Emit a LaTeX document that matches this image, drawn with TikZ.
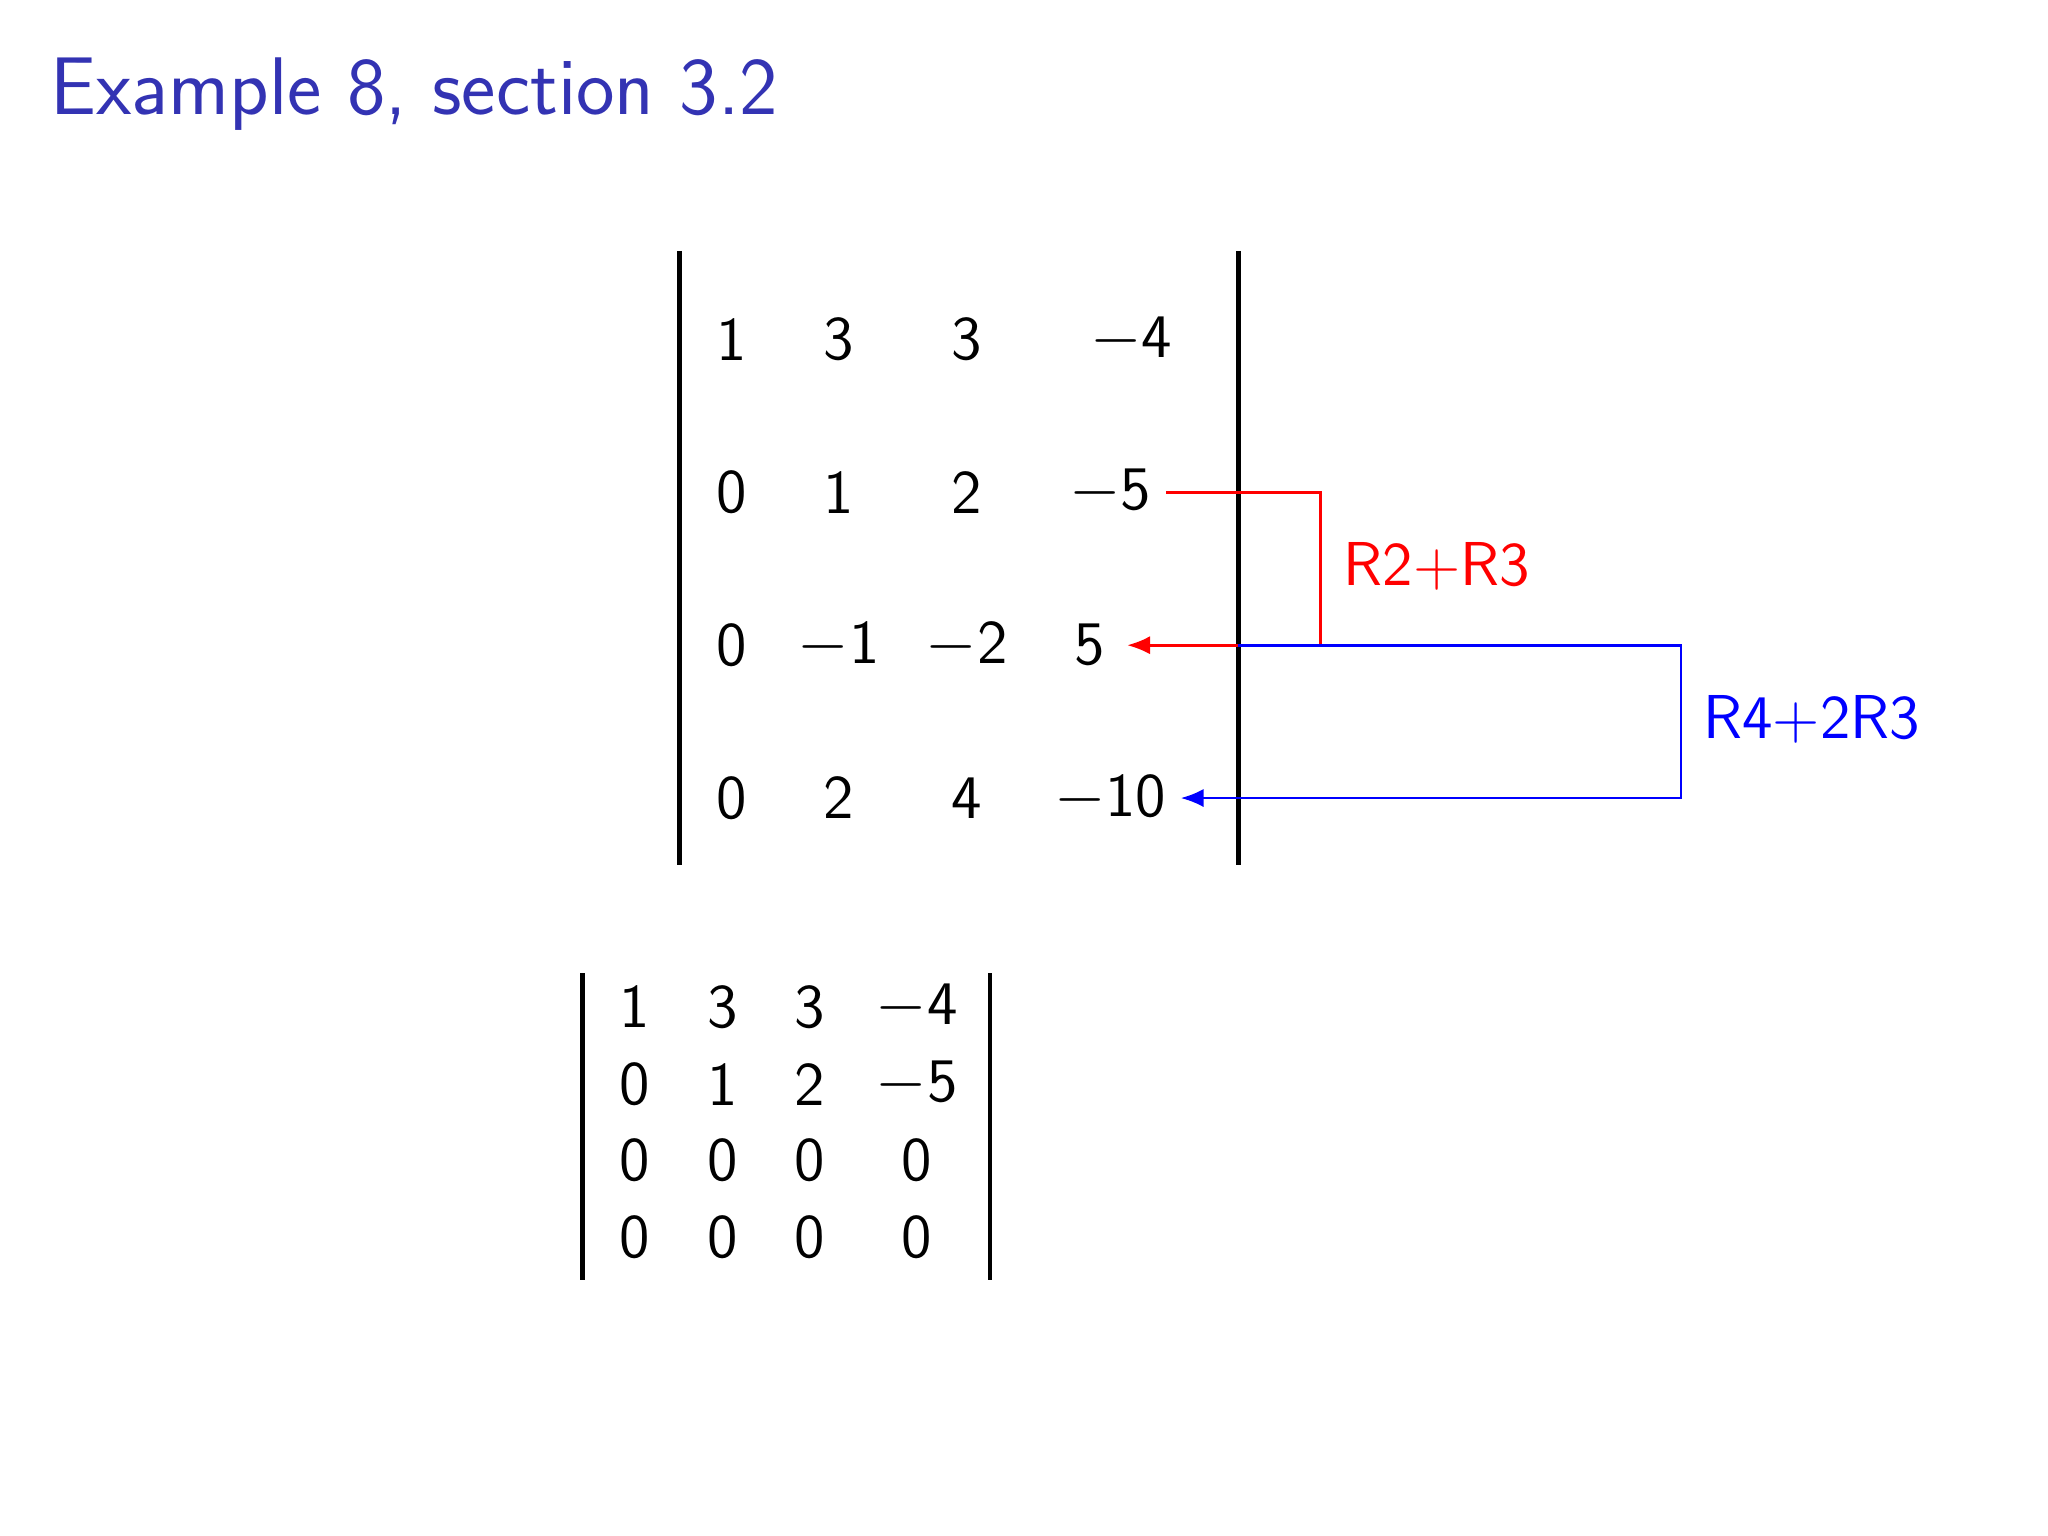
\documentclass[tikz,border=0pt]{standalone}
\usepackage{fontspec}
\usetikzlibrary{arrows.meta}
\definecolor{titleblue}{RGB}{51,51,179}
\begin{document}
\begin{tikzpicture}[x=0.01cm,y=-0.01cm,
  num/.style={font=\sffamily\fontsize{13.5}{16}\selectfont,inner sep=0pt},
  lbl/.style={font=\sffamily\fontsize{13.5}{16}\selectfont,inner sep=0pt},
  bar/.style={line width=1.05pt},
  conn/.style={line width=0.6pt}]
\useasboundingbox (0,0) rectangle (1568,1176);
\node[font=\sffamily\fontsize{17.8}{20}\selectfont,text=titleblue,anchor=west,inner sep=0pt] (title) at (38,72) {Example 8, section 3.2};
% top matrix
\foreach \r/\y/\a/\b/\c in {1/260/1/3/3,2/377/0/1/2,3/494/0/$-$1/$-$2,4/611/0/2/4}{
  \node[num] (t\r a) at (560,\y) {\a};
  \node[num] (t\r b) at (642,\y) {\b};
  \node[num] (t\r c) at (740,\y) {\c};
}
\node[num] (t1d) at (866,260) {$-$4};
\node[num] (t2d) at (850,377) {$-$5};
\node[num] (t3d) at (834,494) {5};
\node[num] (t4d) at (850,611) {$-$10};
\coordinate (tl1) at (520,192); \coordinate (tl2) at (520,662);
\coordinate (tr1) at (948,192); \coordinate (tr2) at (948,662);
\draw[bar] (tl1) -- (tl2);
\draw[bar] (tr1) -- (tr2);
% connectors
\coordinate (rs) at (893,377); \coordinate (rc1) at (1011,377); \coordinate (rc2) at (1011,494);
\coordinate (re) at (863,494);
\draw[conn,red,-{Latex[length=5pt,width=4pt]}] (rs) -- (rc1) -- (rc2) -- (re);
\coordinate (bs) at (948,494); \coordinate (bc1) at (1287,494); \coordinate (bc2) at (1287,611);
\coordinate (be) at (904,611);
\draw[conn,blue,-{Latex[length=5pt,width=4pt]}] (bs) -- (bc1) -- (bc2) -- (be);
\node[lbl,text=red] (l1) at (1100,434) {R2+R3};
\node[lbl,text=blue] (l2) at (1387,551) {R4+2R3};
% bottom matrix
\foreach \r/\y/\a/\b/\c/\d in {1/771/1/3/3/$-$4,2/830/0/1/2/$-$5,3/888/0/0/0/0,4/947/0/0/0/0}{
  \node[num] (b\r a) at (486,\y) {\a};
  \node[num] (b\r b) at (553,\y) {\b};
  \node[num] (b\r c) at (620,\y) {\c};
  \node[num] (b\r d) at (702,\y) {\d};
}
\coordinate (bl1) at (446,745); \coordinate (bl2) at (446,980);
\coordinate (br1) at (758,745); \coordinate (br2) at (758,980);
\draw[bar] (bl1) -- (bl2);
\draw[bar] (br1) -- (br2);
\end{tikzpicture}
\end{document}
